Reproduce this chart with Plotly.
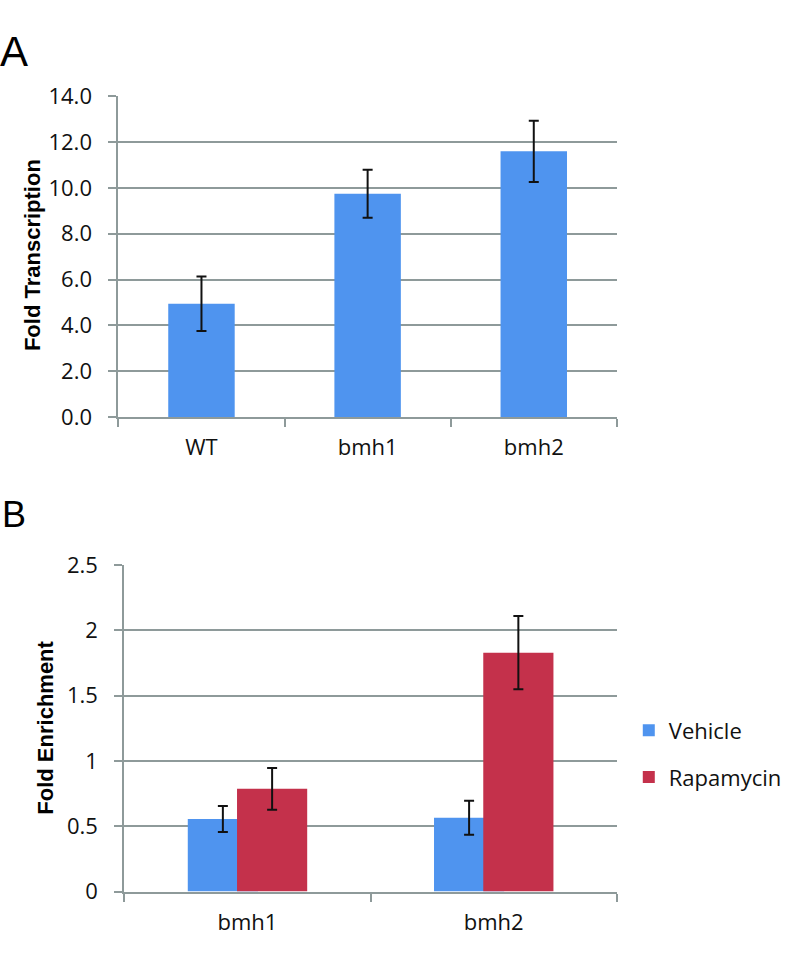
import plotly.graph_objects as go

# Panel A data
strains_a = ['WT', 'bmh1', 'bmh2']
fold_transcription = [4.95, 9.75, 11.6]
fold_transcription_err = [1.19, 1.05, 1.34]

# Panel B data
strains_b = ['bmh1', 'bmh2']
vehicle = [0.556, 0.565]
vehicle_err = [0.10, 0.13]
rapamycin = [0.787, 1.83]
rapamycin_err = [0.16, 0.28]

BLUE = '#4F94EF'
RED = '#C4314B'
GRID = '#8E9A9A'
TICK_FONT = dict(family='Open Sans', size=22, color='#111111')
W, H = 787, 955


def px_x(x):
    return x / W


def px_y(y):
    return 1 - y / H


err_style = dict(type='data', thickness=2, width=5, color='#111111')

fig = go.Figure()

fig.add_trace(go.Bar(
    x=strains_a, y=fold_transcription,
    error_y=dict(array=fold_transcription_err, **err_style),
    marker=dict(color=BLUE, line=dict(width=0)),
    showlegend=False, xaxis='x', yaxis='y'))

fig.add_trace(go.Bar(
    x=strains_b, y=vehicle, name='Vehicle', legendgroup='v',
    error_y=dict(array=vehicle_err, **err_style),
    marker=dict(color=BLUE, line=dict(width=0)),
    xaxis='x2', yaxis='y2'))

fig.add_trace(go.Bar(
    x=strains_b, y=rapamycin, name='Rapamycin', legendgroup='r',
    error_y=dict(array=rapamycin_err, **err_style),
    marker=dict(color=RED, line=dict(width=0)),
    xaxis='x2', yaxis='y2'))

# panel B bars are narrower than the 0.6 bargap would give
fig.data[1].update(width=0.285)
fig.data[2].update(width=0.285)

axis_common = dict(showline=True, linecolor=GRID, linewidth=2,
                   ticks='outside', ticklen=8, tickcolor=GRID, tickwidth=2,
                   tickfont=TICK_FONT)

fig.update_layout(
    width=W, height=H,
    margin=dict(l=0, r=0, t=0, b=0),
    paper_bgcolor='white', plot_bgcolor='white',
    barmode='group',
    bargap=0.6,
    showlegend=True,
    xaxis=dict(domain=[px_x(119), px_x(620)], anchor='y',
               tickson='boundaries', ticklabelstandoff=10, **axis_common),
    yaxis=dict(domain=[px_y(414), px_y(83)], anchor='x', range=[0, 14],
               dtick=2, tickformat='.1f', showgrid=True, gridcolor=GRID,
               gridwidth=2, zeroline=False, ticklabelstandoff=12,
               **axis_common),
    xaxis2=dict(domain=[px_x(125), px_x(620)], anchor='y2',
                tickson='boundaries', ticklabelstandoff=10, **axis_common),
    yaxis2=dict(domain=[px_y(904), px_y(567)], anchor='x2', range=[0, 2.5],
                dtick=0.5, showgrid=True, gridcolor=GRID, gridwidth=2,
                zeroline=False, ticklabelstandoff=12, **axis_common),
    legend=dict(x=px_x(632), y=px_y(716), xanchor='left', yanchor='top',
                font=TICK_FONT, tracegroupgap=15, bgcolor='rgba(0,0,0,0)'),
)

annotations = [
    dict(text='A', x=px_x(14), y=px_y(37), font=dict(family='Liberation Sans', size=42, color='black')),
    dict(text='B', x=px_x(14), y=px_y(515), font=dict(family='Liberation Sans', size=36, color='black')),
    dict(text='<b>Fold Transcription</b>', x=px_x(32), y=px_y(247), textangle=-90,
         font=dict(family='Liberation Sans', size=22, color='black')),
    dict(text='<b>Fold Enrichment</b>', x=px_x(46), y=px_y(735), textangle=-90,
         font=dict(family='Liberation Sans', size=22, color='black')),
]
for a in annotations:
    fig.add_annotation(xref='paper', yref='paper', showarrow=False,
                       xanchor='center', yanchor='middle', **a)

# drop the browser's default body margin so the figure fills the window
fig.write_html('out.html', config={'displayModeBar': False},
               post_script="document.body.style.margin='0';")
